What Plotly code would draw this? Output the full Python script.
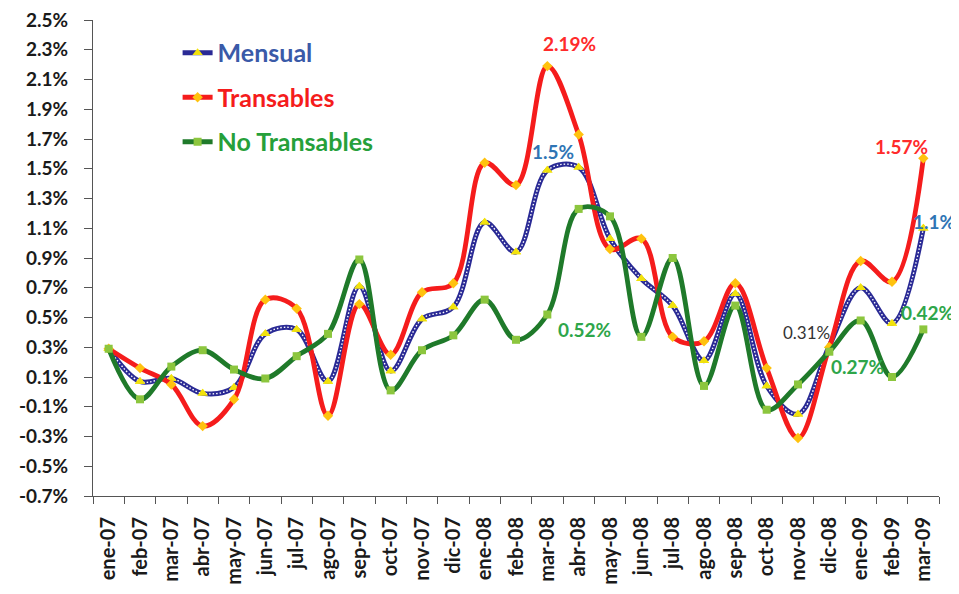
import plotly.graph_objects as go

months = ["ene-07", "feb-07", "mar-07", "abr-07", "may-07", "jun-07", "jul-07", "ago-07", "sep-07",
          "oct-07", "nov-07", "dic-07", "ene-08", "feb-08", "mar-08", "abr-08", "may-08", "jun-08",
          "jul-08", "ago-08", "sep-08", "oct-08", "nov-08", "dic-08", "ene-09", "feb-09", "mar-09"]

mensual = [0.29, 0.07, 0.09, -0.01, 0.03, 0.39, 0.42, 0.07, 0.71,
           0.14, 0.49, 0.57, 1.14, 0.94, 1.49, 1.51, 1.03, 0.76,
           0.58, 0.21, 0.66, 0.04, -0.15, 0.31, 0.70, 0.46, 1.10]

transables = [0.29, 0.16, 0.05, -0.23, -0.05, 0.62, 0.56, -0.16, 0.59,
              0.25, 0.67, 0.73, 1.54, 1.39, 2.19, 1.73, 0.96, 1.03,
              0.37, 0.34, 0.73, 0.16, -0.31, 0.30, 0.88, 0.74, 1.57]

no_transables = [0.29, -0.05, 0.17, 0.28, 0.15, 0.09, 0.24, 0.39, 0.89,
                 0.01, 0.28, 0.38, 0.62, 0.35, 0.52, 1.23, 1.18, 0.37,
                 0.90, 0.04, 0.58, -0.12, 0.05, 0.27, 0.48, 0.10, 0.42]

y_ticks = [-0.7, -0.5, -0.3, -0.1, 0.1, 0.3, 0.5, 0.7, 0.9, 1.1, 1.3, 1.5, 1.7, 1.9, 2.1, 2.3, 2.5]
y_tick_labels = [f"{v:.1f}%" for v in y_ticks]

FONT = "Lato"
NAVY = "#2a2a95"
RED = "#f51c1c"
GREEN = "#1f7a2a"

fig = go.Figure()

# Mensual: navy line with white dots
fig.add_trace(go.Scatter(
    x=months, y=mensual, name="<span style='color:#3a5aa8'><b>Mensual</b></span>",
    mode="lines+markers", legendgroup="m",
    line=dict(color=NAVY, width=5, shape="spline", smoothing=1.0),
    marker=dict(symbol="triangle-up", size=9, color="#f2e20c", line=dict(width=0)),
))
fig.add_trace(go.Scatter(
    x=months, y=mensual, mode="lines", showlegend=False, hoverinfo="skip",
    line=dict(color="white", width=1.4, dash="1.5px,2px", shape="spline", smoothing=1.0),
))
fig.add_trace(go.Scatter(
    x=months, y=mensual, mode="markers", showlegend=False, hoverinfo="skip",
    marker=dict(symbol="triangle-up", size=9, color="#f2e20c", line=dict(width=0)),
))

fig.add_trace(go.Scatter(
    x=months, y=transables, name="<span style='color:#f51c1c'><b>Transables</b></span>",
    mode="lines+markers", legendgroup="t",
    line=dict(color=RED, width=4.8, shape="spline", smoothing=1.0),
    marker=dict(symbol="diamond", size=8, color="#ffc20e", line=dict(width=0)),
))

fig.add_trace(go.Scatter(
    x=months, y=no_transables, name="<span style='color:#26a03a'><b>No Transables</b></span>",
    mode="lines+markers", legendgroup="n",
    line=dict(color=GREEN, width=4.8, shape="spline", smoothing=1.0),
    marker=dict(symbol="square", size=8, color="#8cc63e", line=dict(width=0)),
))

def lbl(i, series, text, color, xs, ys, bold=True, size=19):
    t = f"<b>{text}</b>" if bold else text
    fig.add_annotation(x=months[i], y=series[i], text=t, showarrow=False,
                       xshift=xs, yshift=ys, font=dict(family=FONT, size=size, color=color))

lbl(14, transables, "2.19%", "#ff2b2b", 22, 23)
lbl(14, mensual, "1.5%", "#2f75b5", 6, 19)
lbl(14, no_transables, "0.52%", "#2ea64a", 37, -15)
lbl(26, transables, "1.57%", "#ff2b2b", -22, 12)
lbl(26, mensual, "1.1%", "#2f75b5", 11, 7)
lbl(26, no_transables, "0.42%", "#2ea64a", 4, 17)
lbl(23, mensual, "0.31%", "#333333", -23, 13, bold=False, size=17)
lbl(23, no_transables, "0.27%", "#2ea64a", 28, -15)

fig.update_layout(
    width=951, height=578,
    margin=dict(l=85, r=20, t=12, b=90),
    paper_bgcolor="white", plot_bgcolor="white",
    font=dict(family=FONT, color="#1a1a1a"),
    showlegend=True,
    legend=dict(x=0.1, y=0.979, xanchor="left", yanchor="top",
                font=dict(family=FONT, size=25),
                bgcolor="rgba(0,0,0,0)", tracegroupgap=9, itemwidth=30),
    xaxis=dict(type="category", categoryorder="array", categoryarray=months,
               range=[-0.5, 26.5], tickangle=-90, automargin=False,
               showline=True, linecolor="#555555", linewidth=1,
               ticks="outside", tickson="boundaries", ticklen=7, tickcolor="#555555",
               tickfont=dict(family=FONT, size=20, color="#1a1a1a", weight="bold"),
               ticklabelstandoff=12, ticklabeloverflow="allow",
               showgrid=False, zeroline=False),
    yaxis=dict(range=[-0.7, 2.5], tickmode="array", tickvals=y_ticks, ticktext=y_tick_labels,
               automargin=False,
               showline=True, linecolor="#555555", linewidth=1,
               ticks="outside", ticklen=8, tickcolor="#555555",
               tickfont=dict(family=FONT, size=19, color="#1a1a1a", weight="bold"),
               ticklabelstandoff=12, ticklabeloverflow="allow",
               showgrid=False, zeroline=False),
)

fig.write_html("out.html")
